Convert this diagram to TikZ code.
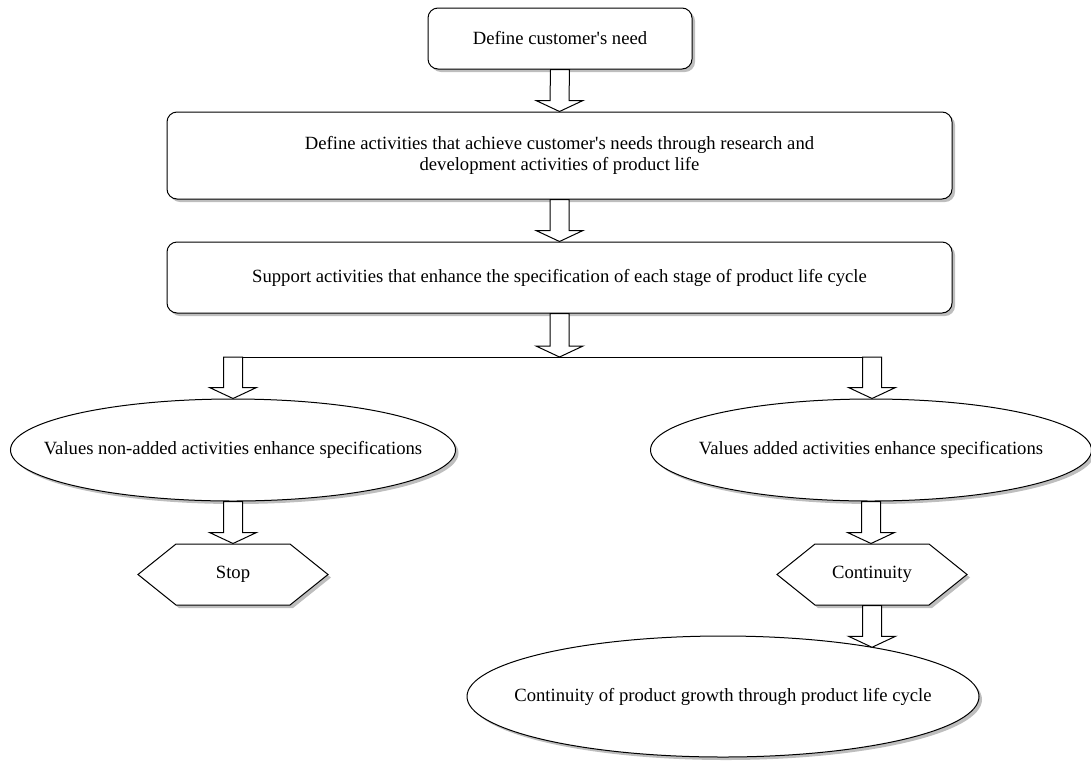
\documentclass[tikz,border=0pt]{standalone}
\usepackage{fontspec}
\setmainfont{Liberation Serif}
\usetikzlibrary{calc,shapes.geometric,shapes.symbols,shadows}

\definecolor{shadowgray}{RGB}{190,190,190}
\tikzset{every picture/.style={line width=0.75pt}}
\tikzset{
  flowshadow/.style={drop shadow={shadow xshift=2.25pt,shadow yshift=-2.25pt,fill=shadowgray,opacity=1}},
  stepbox/.style={draw,fill=white,rounded corners=7.5pt,inner sep=0pt,align=center,flowshadow},
  stepoval/.style={ellipse,draw,fill=white,inner sep=0pt,flowshadow},
  stepend/.style={signal,signal to=west and east,signal pointer angle=77.5,draw,fill=white,inner sep=0pt,minimum width=142.5pt,minimum height=45.75pt,flowshadow}
}
% hollow block arrow, from #1 down to #2
\newcommand{\hollowarrow}[2]{%
  \draw[fill=white] ($(#1)+(-9.5,0)$) -- ($(#2)+(-9.5,-11)$) -- ($(#2)+(-23.5,-11)$) -- (#2) -- ($(#2)+(23.5,-11)$) -- ($(#2)+(9.5,-11)$) -- ($(#1)+(9.5,0)$) -- cycle ;}
% text that does not widen the oval
\newcommand{\ovaltext}[1]{\makebox[0pt]{#1}}

\begin{document}
\begin{tikzpicture}[x=0.75pt,y=0.75pt,yscale=-1,xscale=1,every node/.style={font=\fontsize{14}{15.75}\selectfont}]
\path[use as bounding box] (0,0) rectangle (1091,761);

%Shape: Rounded Rect
\draw (560,38.5) node[stepbox,minimum width=198pt,minimum height=45.75pt] (need) {Define customer\textquotesingle s need};
%Shape: Rounded Rect
\draw (559.5,155.5) node[stepbox,minimum width=588.75pt,minimum height=65.25pt] (define) {Define activities that achieve customer\textquotesingle s needs through research and\\development activities of product life};
%Shape: Rounded Rect
\draw (559.5,277.5) node[stepbox,minimum width=588.75pt,minimum height=53.25pt] (support) {Support activities that enhance the specification of each stage of product life cycle};

%Shape: Ellipse
\draw (233,450) node[stepoval,minimum width=333.75pt,minimum height=76.5pt] (nonadded) {\ovaltext{Values non-added activities enhance specifications}};
%Shape: Ellipse
\draw (871,450) node[stepoval,minimum width=330.75pt,minimum height=76.5pt] (added) {\ovaltext{Values added activities enhance specifications}};

%Shape: Hexagon
\draw (233,574.5) node[stepend] (stop) {Stop};
%Shape: Hexagon
\draw (872,574.5) node[stepend] (continuity) {Continuity};

%Shape: Ellipse
\draw (723,696.5) node[stepoval,minimum width=384pt,minimum height=90.75pt] (growth) {\ovaltext{Continuity of product growth through product life cycle}};

\coordinate (fork) at (559.5,357);
\coordinate (forkL) at (233,357);
\coordinate (forkR) at (872,357);

%Block Arrows
\hollowarrow{need.south}{define.north}
\hollowarrow{define.south}{support.north}
\hollowarrow{support.south}{fork}
%Straight Lines
\draw (forkL) -- (forkR) ;
\hollowarrow{forkL}{forkL |- nonadded.north}
\hollowarrow{forkR}{forkR |- added.north}
\hollowarrow{nonadded.south}{stop.north}
\hollowarrow{added.south}{added.south |- continuity.north}
\hollowarrow{continuity.south}{continuity.south |- growth.18}

\end{tikzpicture}
\end{document}
